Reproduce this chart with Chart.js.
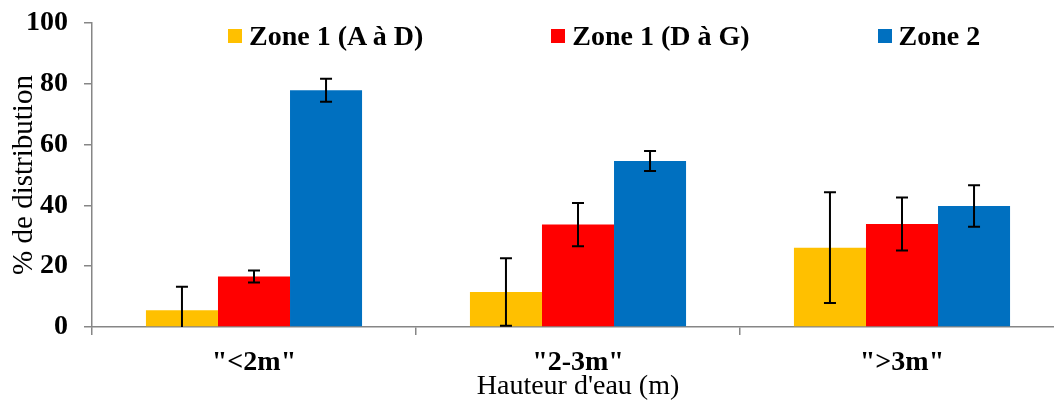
<!DOCTYPE html>
<html>
<head>
<meta charset="utf-8">
<script src="https://cdn.jsdelivr.net/npm/chart.js@4.4.0/dist/chart.umd.min.js"></script>
<style>
  body { margin: 0; background: #fff; }
  #wrap { position: relative; width: 1054px; height: 401px; overflow: hidden; }
  #chart { position: absolute; left: 0; top: 0; }
  #legend {
    position: absolute; left: 228px; top: 22px;
    display: flex; gap: 128px;
    font: bold 28px "Liberation Serif", "Times New Roman", serif;
    line-height: 28px; white-space: nowrap; color: #000;
  }
  .item { display: flex; align-items: center; }
  .box { width: 14px; height: 14px; margin-right: 7px; }
</style>
</head>
<body>
<div id="wrap">
  <canvas id="chart" width="1066" height="401"></canvas>
  <div id="legend"></div>
</div>
<script>
// data
const categories = ['"<2m"', '"2-3m"', '">3m"'];
const seriesNames = ['Zone 1 (A à D)', 'Zone 1 (D à G)', 'Zone 2'];
const zone1AD = [5.5, 11.5, 26.1];
const zone1DG = [16.6, 33.7, 33.9];
const zone2 = [77.9, 54.6, 39.8];
const zone1ADErr = [7.7, 11.1, 18.2];
const zone1DGErr = [2.0, 7.1, 8.7];
const zone2Err = [3.8, 3.3, 6.8];
const yTicks = [0, 20, 40, 60, 80, 100];

const colors = ['#FFC000', '#FF0000', '#0070C0'];
const axisGray = '#868686';
const serif = '"Liberation Serif", "Times New Roman", serif';

// error bars drawn from the y scale
const errorBars = {
    id: 'errorBars',
    afterDatasetsDraw(chart) {
        const ctx = chart.ctx;
        const y = chart.scales.y;
        const bottom = chart.chartArea.bottom;
        ctx.save();
        ctx.strokeStyle = '#000';
        ctx.lineWidth = 2;
        chart.data.datasets.forEach((ds, i) => {
            chart.getDatasetMeta(i).data.forEach((bar, j) => {
                const v = ds.data[j], e = ds.errors[j];
                const top = y.getPixelForValue(v + e);
                let low = y.getPixelForValue(v - e);
                const clipped = low > bottom;
                if (clipped) low = bottom;
                ctx.beginPath();
                ctx.moveTo(bar.x, top); ctx.lineTo(bar.x, low);
                ctx.moveTo(bar.x - 6, top); ctx.lineTo(bar.x + 6, top);
                if (!clipped) { ctx.moveTo(bar.x - 6, low); ctx.lineTo(bar.x + 6, low); }
                ctx.stroke();
            });
        });
        ctx.restore();
    }
};

const values = [zone1AD, zone1DG, zone2];
const errors = [zone1ADErr, zone1DGErr, zone2Err];

new Chart(document.getElementById('chart').getContext('2d'), {
    type: 'bar',
    data: {
        labels: categories,
        datasets: seriesNames.map((name, i) => ({
            label: name,
            data: values[i],
            errors: errors[i],
            backgroundColor: colors[i],
            borderWidth: 0,
            categoryPercentage: 0.667,
            barPercentage: 1
        }))
    },
    options: {
        responsive: false,
        animation: false,
        layout: { padding: { top: 23, right: 2, left: 0, bottom: 0 } },
        plugins: { legend: { display: false }, tooltip: { enabled: false } },
        scales: {
            x: {
                afterFit(scale) { scale.height = 74; },
                grid: { display: true, drawOnChartArea: false, tickLength: 8, color: axisGray, lineWidth: 1.5, offset: true },
                border: { color: axisGray, width: 1.5 },
                ticks: { color: '#000', padding: 11, maxRotation: 0, font: { family: serif, size: 28, weight: 'bold' } },
                title: { display: true, text: "Hauteur d'eau (m)", color: '#000', padding: 0, font: { family: serif, size: 28, lineHeight: 1.0 } }
            },
            y: {
                min: 0,
                max: 100,
                afterFit(scale) {
                    // fixed axis width; the top label may hang above the plot
                    scale.width = 92;
                    scale.paddingTop = 0;
                    scale.paddingBottom = 0;
                },
                afterBuildTicks(scale) { scale.ticks = yTicks.map(v => ({ value: v })); },
                grid: { display: true, drawOnChartArea: false, tickLength: 8, color: axisGray, lineWidth: 1.5 },
                border: { color: axisGray, width: 1.5 },
                ticks: { color: '#000', padding: 16, font: { family: serif, size: 28, weight: 'bold' } },
                title: { display: true, text: '% de distribution', color: '#000', padding: { top: 7, bottom: 0 }, font: { family: serif, size: 29 } }
            }
        }
    },
    plugins: [errorBars]
});

// legend drawn over the plot, as in the original
const legend = document.getElementById('legend');
seriesNames.forEach((name, i) => {
    const item = document.createElement('div');
    item.className = 'item';
    const box = document.createElement('span');
    box.className = 'box';
    box.style.background = colors[i];
    const text = document.createElement('span');
    text.textContent = name;
    item.appendChild(box);
    item.appendChild(text);
    legend.appendChild(item);
});
</script>
</body>
</html>
